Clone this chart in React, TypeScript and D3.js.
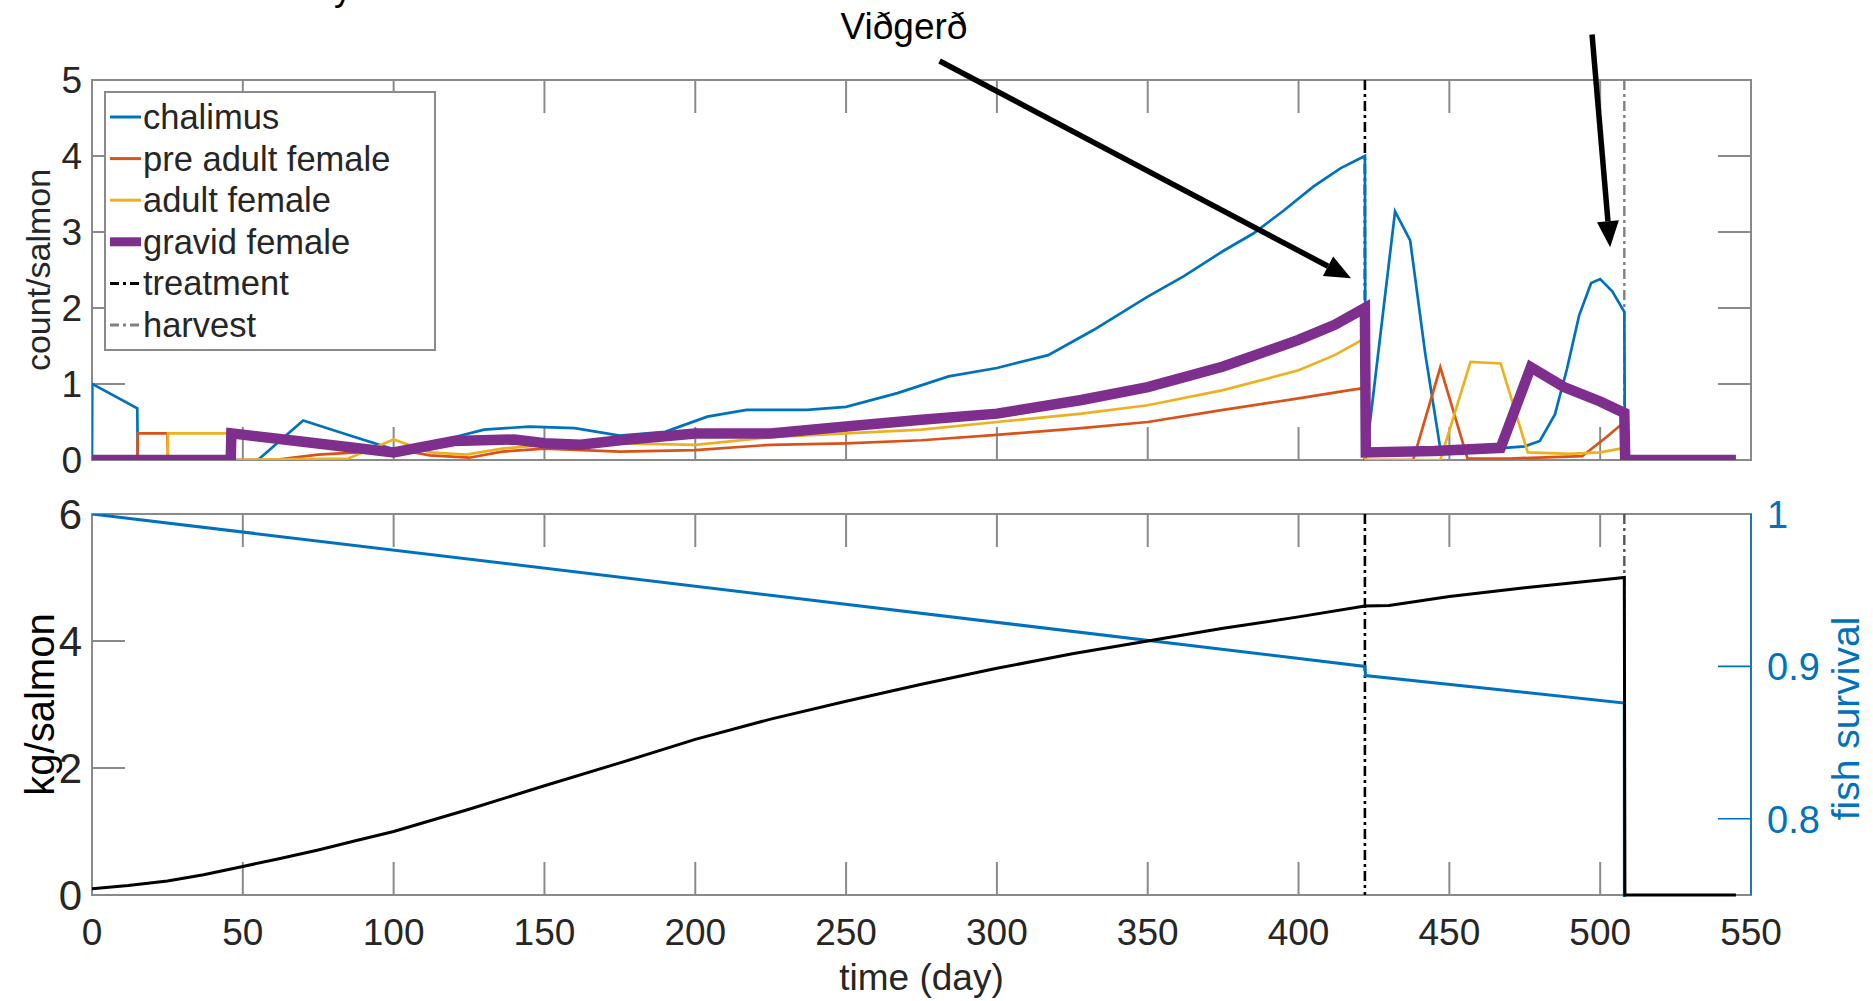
import React from 'react';
import * as d3 from 'd3';

const W = 1873;
const H = 1001;
const FONT = '"Liberation Sans", Arial, Helvetica, sans-serif';

// ---- data ----
const timeTicks = [0, 50, 100, 150, 200, 250, 300, 350, 400, 450, 500, 550];
const countTicks = [0, 1, 2, 3, 4, 5];
const weightTicks = [0, 2, 4, 6];
const survivalTicks = [0.8, 0.9, 1];

const treatmentDay = 422;
const harvestDay = 508;

const chalimusT = [0, 0.1, 15, 15.2, 55, 70, 85, 100, 110, 120, 130, 145, 160, 175, 190, 204, 217, 237, 250, 267, 284, 300, 317, 332, 350, 362, 375, 385, 395, 405, 414, 422, 422.2, 432, 437, 442, 447, 455, 465, 475, 480, 485, 489, 493, 497, 500, 504, 508, 508.2, 545];
const chalimusV = [0, 1.0, 0.68, 0, 0, 0.52, 0.33, 0.14, 0.15, 0.3, 0.4, 0.44, 0.42, 0.32, 0.37, 0.57, 0.66, 0.66, 0.7, 0.88, 1.1, 1.21, 1.38, 1.71, 2.15, 2.42, 2.75, 2.98, 3.28, 3.6, 3.84, 4.0, 0, 3.27, 2.89, 1.4, 0.15, 0.15, 0.15, 0.18, 0.25, 0.6, 1.2, 1.9, 2.33, 2.38, 2.22, 1.95, 0, 0];

const preAdultT = [0, 15, 15.2, 25, 25.2, 60, 75, 88, 100, 112, 125, 136, 150, 175, 200, 225, 250, 275, 300, 328, 350, 375, 400, 417, 422, 422.2, 438, 447, 456, 470, 494, 502, 508, 508.2, 545];
const preAdultV = [0, 0, 0.35, 0.35, 0, 0, 0.07, 0.1, 0.15, 0.06, 0.03, 0.11, 0.15, 0.11, 0.13, 0.2, 0.22, 0.26, 0.33, 0.42, 0.5, 0.66, 0.81, 0.92, 0.95, 0, 0, 1.22, 0.02, 0.02, 0.05, 0.3, 0.5, 0, 0];

const adultT = [0, 25, 25.2, 46, 46.2, 85, 100, 112, 124, 136, 150, 175, 200, 225, 250, 275, 300, 328, 350, 375, 400, 412, 422, 422.2, 447, 457, 467, 476, 490, 500, 508, 508.2, 545];
const adultV = [0, 0, 0.35, 0.35, 0, 0.02, 0.27, 0.1, 0.07, 0.15, 0.2, 0.22, 0.2, 0.3, 0.35, 0.4, 0.5, 0.61, 0.72, 0.92, 1.18, 1.38, 1.6, 0, 0, 1.29, 1.27, 0.1, 0.08, 0.1, 0.16, 0, 0];

const gravidT = [0, 46, 46.2, 70, 100, 120, 140, 150, 162, 175, 200, 225, 250, 275, 300, 328, 350, 375, 400, 412, 422, 422.3, 445, 467, 477, 488, 500, 508, 508.3, 545];
const gravidV = [0, 0, 0.35, 0.24, 0.1, 0.25, 0.27, 0.22, 0.2, 0.26, 0.35, 0.35, 0.44, 0.53, 0.61, 0.79, 0.96, 1.23, 1.58, 1.78, 2.0, 0.1, 0.12, 0.16, 1.22, 0.96, 0.77, 0.62, 0, 0];

const weightT = [0, 12, 25, 37, 50, 62, 75, 87, 100, 125, 150, 175, 200, 225, 250, 275, 300, 325, 350, 375, 400, 422, 430, 450, 475, 500, 508, 508.2, 545];
const weightV = [0.1, 0.15, 0.22, 0.32, 0.45, 0.57, 0.71, 0.85, 1.0, 1.35, 1.72, 2.08, 2.45, 2.77, 3.05, 3.32, 3.57, 3.8, 4.0, 4.2, 4.38, 4.55, 4.56, 4.7, 4.84, 4.96, 5.0, 0, 0];

const survivalT = [0, 422, 422.2, 508, 508.2, 545];
const survivalV = [1.0, 0.9, 0.894, 0.876, 0, 0];

const legendLabels = ['chalimus', 'pre adult female', 'adult female', 'gravid female', 'treatment', 'harvest'];

// ---- scales ----
const x = d3.scaleLinear().domain([0, 550]).range([92, 1751]);
const yTop = d3.scaleLinear().domain([0, 5]).range([460, 80]);
const yKg = d3.scaleLinear().domain([0, 6]).range([895, 514]);
const ySurv = d3.scaleLinear().domain([0.75, 1]).range([895, 514]);

const zip = (t: number[], v: number[]): [number, number][] => t.map((d, i) => [d, v[i]]);
const lineTop = d3.line<[number, number]>().x(d => x(d[0])).y(d => yTop(d[1]));
const lineKg = d3.line<[number, number]>().x(d => x(d[0])).y(d => yKg(d[1]));
const lineSurv = d3.line<[number, number]>().x(d => x(d[0])).y(d => ySurv(d[1]));

const BLUE = '#0072BD';
const AXIS = '#8a8a8a';
const TICK = 33;

const topSeries = [
  { t: chalimusT, v: chalimusV, color: BLUE, w: 2.7 },
  { t: preAdultT, v: preAdultV, color: '#D95319', w: 2.7 },
  { t: adultT, v: adultV, color: '#EDB120', w: 2.7 },
  { t: gravidT, v: gravidV, color: '#7E2F8E', w: 10.5 },
];
const legendStyles = [
  { color: BLUE, w: 3, dash: undefined },
  { color: '#D95319', w: 3, dash: undefined },
  { color: '#EDB120', w: 3, dash: undefined },
  { color: '#7E2F8E', w: 9, dash: undefined },
  { color: '#000', w: 3, dash: '9 4 3 4' },
  { color: '#808080', w: 3, dash: '9 4 3 4' },
];

function Arrow({ x1, y1, x2, y2 }: { x1: number; y1: number; x2: number; y2: number }) {
  const a = Math.atan2(y2 - y1, x2 - x1);
  const L = 26, hw = 11;
  const bx = x2 - L * Math.cos(a), by = y2 - L * Math.sin(a);
  const p = [
    [x2, y2],
    [bx + hw * Math.sin(a), by - hw * Math.cos(a)],
    [bx - hw * Math.sin(a), by + hw * Math.cos(a)],
  ];
  return (
    <g>
      <line x1={x1} y1={y1} x2={bx} y2={by} stroke="#000" strokeWidth={5.5} />
      <polygon points={p.map(d => d.join(',')).join(' ')} fill="#000" />
    </g>
  );
}

function Frame({ top, bottom }: { top: number; bottom: number }) {
  return (
    <g stroke={AXIS} strokeWidth={2} fill="none">
      <rect x={x(0)} y={top} width={x(550) - x(0)} height={bottom - top} />
      {timeTicks.slice(1, -1).map(t => (
        <g key={t}>
          <line x1={x(t)} x2={x(t)} y1={bottom} y2={bottom - TICK} />
          <line x1={x(t)} x2={x(t)} y1={top} y2={top + TICK} />
        </g>
      ))}
    </g>
  );
}

export default function App() {
  const clipTop = 'clip-top';
  const clipBot = 'clip-bot';
  return (
    <svg width={W} height={H} style={{ position: 'absolute', left: 0, top: 0, background: '#fff' }} fontFamily={FONT}>
      <defs>
        <clipPath id={clipTop}>
          <rect x={x(0)} y={yTop(5)} width={x(550) - x(0)} height={yTop(0) - yTop(5)} />
        </clipPath>
        <clipPath id={clipBot}>
          <rect x={x(0)} y={yKg(6)} width={x(550) - x(0)} height={yKg(0) - yKg(6) + 2} />
        </clipPath>
      </defs>

      {/* text cut off at the top edge, as in the source image */}
      <text x={334} y={0} fontSize={36} fill="#000">y</text>

      {/* ---------- top panel ---------- */}
      <Frame top={yTop(5)} bottom={yTop(0)} />
      <g stroke={AXIS} strokeWidth={2}>
        {countTicks.slice(1, -1).map(v => (
          <g key={v}>
            <line x1={x(0)} x2={x(0) + TICK} y1={yTop(v)} y2={yTop(v)} />
            <line x1={x(550)} x2={x(550) - TICK} y1={yTop(v)} y2={yTop(v)} />
          </g>
        ))}
      </g>
      {countTicks.map(v => (
        <text key={v} x={x(0) - 10} y={yTop(v) + 13} fontSize={37} textAnchor="end" fill="#262626">{v}</text>
      ))}
      <text transform={`translate(50,${(yTop(0) + yTop(5)) / 2}) rotate(-90)`} fontSize={34} textAnchor="middle" fill="#262626">count/salmon</text>

      <g clipPath={`url(#${clipTop})`}>
        <line x1={x(treatmentDay)} x2={x(treatmentDay)} y1={yTop(5)} y2={yTop(0)} stroke="#000" strokeWidth={2.6} strokeDasharray="10 4 3 4" />
        <line x1={x(harvestDay)} x2={x(harvestDay)} y1={yTop(5)} y2={yTop(0)} stroke="#808080" strokeWidth={2.4} strokeDasharray="10 4 3 4" />
        {topSeries.map((s, i) => (
          <path key={i} d={lineTop(zip(s.t, s.v)) || ''} fill="none" stroke={s.color} strokeWidth={s.w} strokeLinejoin="miter" />
        ))}
      </g>

      {/* legend */}
      <g>
        <rect x={105} y={92} width={330} height={258} fill="#fff" stroke={AXIS} strokeWidth={2} />
        {legendLabels.map((lab, i) => {
          const cy = 117 + i * 41.6;
          const st = legendStyles[i];
          return (
            <g key={lab}>
              <line x1={110} x2={141} y1={cy} y2={cy} stroke={st.color} strokeWidth={st.w} strokeDasharray={st.dash} />
              <text x={143} y={cy + 12} fontSize={34.5} fill="#262626">{lab}</text>
            </g>
          );
        })}
      </g>

      {/* ---------- bottom panel ---------- */}
      <Frame top={yKg(6)} bottom={yKg(0)} />
      <g stroke={AXIS} strokeWidth={2}>
        {weightTicks.slice(1, -1).map(v => (
          <line key={v} x1={x(0)} x2={x(0) + TICK} y1={yKg(v)} y2={yKg(v)} />
        ))}
      </g>
      <g stroke={BLUE} strokeWidth={1.6}>
        <line x1={x(550)} x2={x(550)} y1={ySurv(1)} y2={ySurv(0.75)} />
        {survivalTicks.slice(0, -1).map(v => (
          <line key={v} x1={x(550)} x2={x(550) - TICK} y1={ySurv(v)} y2={ySurv(v)} />
        ))}
      </g>
      {weightTicks.map(v => (
        <text key={v} x={x(0) - 10} y={yKg(v) + 15} fontSize={42} textAnchor="end" fill="#262626">{v}</text>
      ))}
      {survivalTicks.map(v => (
        <text key={v} x={x(550) + 16} y={ySurv(v) + 14} fontSize={38} textAnchor="start" fill={BLUE}>{v === 1 ? '1' : v.toFixed(1)}</text>
      ))}
      {timeTicks.map(t => (
        <text key={t} x={x(t)} y={945} fontSize={37} textAnchor="middle" fill="#262626">{t}</text>
      ))}
      <text x={(x(0) + x(550)) / 2} y={990} fontSize={37} textAnchor="middle" fill="#262626">time (day)</text>
      <text transform={`translate(54,${(yKg(0) + yKg(6)) / 2}) rotate(-90)`} fontSize={40} textAnchor="middle" fill="#000">kg/salmon</text>
      <text transform={`translate(1859,${(yKg(0) + yKg(6)) / 2 + 14}) rotate(-90)`} fontSize={39} textAnchor="middle" fill={BLUE}>fish survival</text>

      <g clipPath={`url(#${clipBot})`}>
        <line x1={x(treatmentDay)} x2={x(treatmentDay)} y1={yKg(6)} y2={yKg(0)} stroke="#000" strokeWidth={2.6} strokeDasharray="10 4 3 4" />
        <line x1={x(harvestDay)} x2={x(harvestDay)} y1={yKg(6)} y2={yKg(0)} stroke="#555" strokeWidth={2.4} strokeDasharray="10 4 3 4" />
        <path d={lineSurv(zip(survivalT, survivalV)) || ''} fill="none" stroke={BLUE} strokeWidth={3} />
        <path d={lineKg(zip(weightT, weightV)) || ''} fill="none" stroke="#000" strokeWidth={3} />
      </g>

      {/* annotations */}
      <text x={904} y={39} fontSize={37} textAnchor="middle" fill="#000">Viðgerð</text>
      <Arrow x1={x(281)} y1={yTop(5.25)} x2={x(417.4)} y2={yTop(2.39)} />
      <Arrow x1={x(497.3)} y1={yTop(5.6)} x2={x(503.3)} y2={yTop(2.8)} />
    </svg>
  );
}
